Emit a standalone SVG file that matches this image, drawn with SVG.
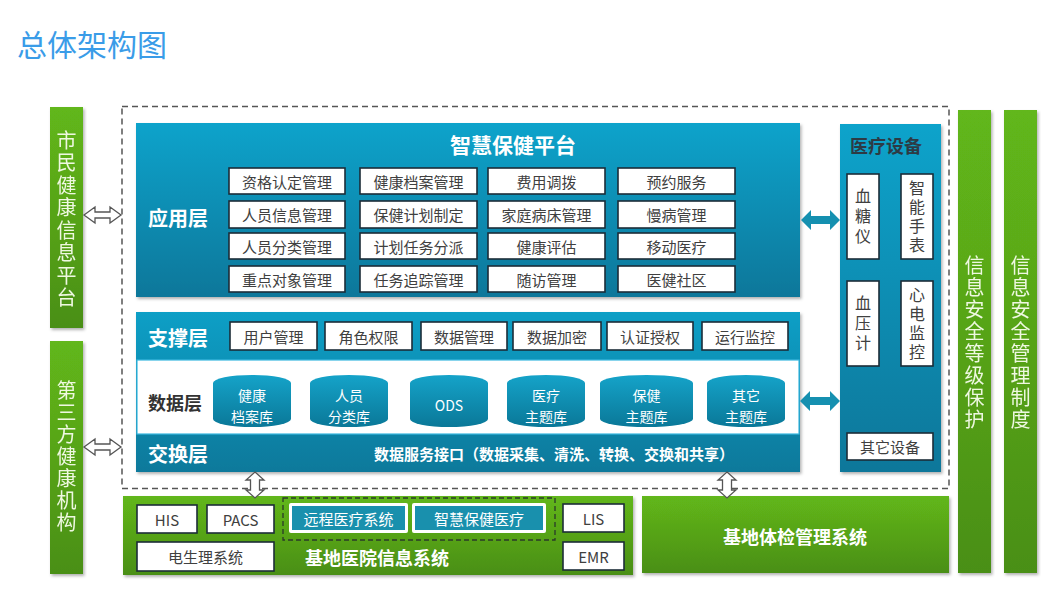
<svg xmlns="http://www.w3.org/2000/svg" width="1061" height="592" viewBox="0 0 1061 592">
<defs>
<linearGradient id="gTeal" x1="0" y1="0" x2="0" y2="1">
<stop offset="0" stop-color="#0aa3cb"/><stop offset="1" stop-color="#08779a"/>
</linearGradient>
<linearGradient id="gBand" x1="0" y1="0" x2="0" y2="1">
<stop offset="0" stop-color="#0b9fc6"/><stop offset="1" stop-color="#08799b"/>
</linearGradient>
<linearGradient id="gCyl" x1="0" y1="0" x2="0" y2="1">
<stop offset="0" stop-color="#15a3c9"/><stop offset="1" stop-color="#0a7898"/>
</linearGradient>
<linearGradient id="gGreen" x1="0" y1="0" x2="0" y2="1">
<stop offset="0" stop-color="#62b71a"/><stop offset="1" stop-color="#4a8f17"/>
</linearGradient>
<filter id="sh" x="-10%" y="-10%" width="120%" height="120%">
<feDropShadow dx="1.5" dy="2" stdDeviation="1.5" flood-color="#000" flood-opacity="0.3"/>
</filter>
<style>
text{font-family:"Noto Sans CJK SC","Liberation Sans",sans-serif;}
.box{fill:#fff;stroke:#1c2c38;stroke-width:1.6;}
.bt{font-size:15px;fill:#404040;text-anchor:middle;dominant-baseline:central;}
.lay{font-size:20px;font-weight:bold;fill:#fff;dominant-baseline:central;}
.vt{font-size:16px;fill:#404040;text-anchor:middle;writing-mode:vertical-rl;}
.gv{font-size:20px;fill:#eef8e0;text-anchor:middle;writing-mode:vertical-rl;}
.cy{font-size:14px;fill:#fff;text-anchor:middle;dominant-baseline:central;}
.hol{fill:#fff;stroke:#555;stroke-width:1.3;}
.tar{fill:#1590b0;}
</style>
</defs>
<rect width="1061" height="592" fill="#fff"/>
<text x="17" y="56" font-size="30" fill="#3a9ce8">总体架构图</text>

<rect x="122" y="106.5" width="827" height="382" fill="none" stroke="#555" stroke-width="1.5" stroke-dasharray="6 4"/>

<g id="left-bar-1" filter="url(#sh)">
<rect x="50" y="107" width="33" height="221" fill="url(#gGreen)"/>
<text class="gv" x="66.5" y="220" letter-spacing="2.5">市民健康信息平台</text>
</g>
<g id="left-bar-2" filter="url(#sh)">
<rect x="50" y="341" width="33" height="233" fill="url(#gGreen)"/>
<text class="gv" x="66.5" y="457" letter-spacing="2">第三方健康机构</text>
</g>
<g id="right-bar-1" filter="url(#sh)">
<rect x="958" y="110" width="33" height="463" fill="url(#gGreen)"/>
<text class="gv" x="974.5" y="343" letter-spacing="2">信息安全等级保护</text>
</g>
<g id="right-bar-2" filter="url(#sh)">
<rect x="1004" y="110" width="33" height="463" fill="url(#gGreen)"/>
<text class="gv" x="1020.5" y="343" letter-spacing="2">信息安全管理制度</text>
</g>

<g id="app-layer">
<rect x="136" y="123" width="664" height="174" fill="url(#gTeal)" filter="url(#sh)"/>
<text x="513" y="144" font-size="21" font-weight="bold" fill="#fff" text-anchor="middle" dominant-baseline="central">智慧保健平台</text>
<text class="lay" x="148" y="217">应用层</text>
<rect class="box" x="229" y="168" width="116" height="26"/><text class="bt" x="287" y="181">资格认定管理</text>
<rect class="box" x="229" y="201" width="116" height="27"/><text class="bt" x="287" y="214.5">人员信息管理</text>
<rect class="box" x="229" y="233" width="116" height="26"/><text class="bt" x="287" y="246">人员分类管理</text>
<rect class="box" x="229" y="266" width="116" height="26"/><text class="bt" x="287" y="279">重点对象管理</text>
<rect class="box" x="360" y="168" width="117" height="26"/><text class="bt" x="418.5" y="181">健康档案管理</text>
<rect class="box" x="360" y="201" width="117" height="27"/><text class="bt" x="418.5" y="214.5">保健计划制定</text>
<rect class="box" x="360" y="233" width="117" height="26"/><text class="bt" x="418.5" y="246">计划任务分派</text>
<rect class="box" x="360" y="266" width="117" height="26"/><text class="bt" x="418.5" y="279">任务追踪管理</text>
<rect class="box" x="488" y="168" width="117" height="26"/><text class="bt" x="546.5" y="181">费用调拨</text>
<rect class="box" x="488" y="201" width="117" height="27"/><text class="bt" x="546.5" y="214.5">家庭病床管理</text>
<rect class="box" x="488" y="233" width="117" height="26"/><text class="bt" x="546.5" y="246">健康评估</text>
<rect class="box" x="488" y="266" width="117" height="26"/><text class="bt" x="546.5" y="279">随访管理</text>
<rect class="box" x="618" y="168" width="117" height="26"/><text class="bt" x="676.5" y="181">预约服务</text>
<rect class="box" x="618" y="201" width="117" height="27"/><text class="bt" x="676.5" y="214.5">慢病管理</text>
<rect class="box" x="618" y="233" width="117" height="26"/><text class="bt" x="676.5" y="246">移动医疗</text>
<rect class="box" x="618" y="266" width="117" height="26"/><text class="bt" x="676.5" y="279">医健社区</text>
</g>

<g id="platform-layers">
<rect x="136" y="312" width="664" height="160" fill="url(#gBand)" filter="url(#sh)"/>
<rect x="137" y="360" width="662" height="74" fill="#fff" stroke="#3ab8e0" stroke-width="1.2"/>
</g>

<g id="support-layer">
<text class="lay" x="148" y="337">支撑层</text>
<rect class="box" x="230" y="322" width="87" height="28"/><text class="bt" x="273.5" y="336">用户管理</text>
<rect class="box" x="325" y="322" width="87" height="28"/><text class="bt" x="368.5" y="336">角色权限</text>
<rect class="box" x="421" y="322" width="86" height="28"/><text class="bt" x="464" y="336">数据管理</text>
<rect class="box" x="513" y="322" width="88" height="28"/><text class="bt" x="557" y="336">数据加密</text>
<rect class="box" x="607" y="322" width="86" height="28"/><text class="bt" x="650" y="336">认证授权</text>
<rect class="box" x="702" y="322" width="86" height="28"/><text class="bt" x="745" y="336">运行监控</text>
</g>

<g id="data-layer">
<text x="148" y="402" font-size="18" font-weight="bold" fill="#333" dominant-baseline="central">数据层</text>
<path d="M213,383 A39,8 0 0 1 291,383 V419 A39,8 0 0 1 213,419 Z" fill="url(#gCyl)"/>
<text class="cy"><tspan x="252" y="394.5">健康</tspan><tspan x="252" y="415.5">档案库</tspan></text>
<path d="M310,383 A39,8 0 0 1 388,383 V419 A39,8 0 0 1 310,419 Z" fill="url(#gCyl)"/>
<text class="cy"><tspan x="349" y="394.5">人员</tspan><tspan x="349" y="415.5">分类库</tspan></text>
<path d="M410,383 A39,8 0 0 1 488,383 V419 A39,8 0 0 1 410,419 Z" fill="url(#gCyl)"/>
<text class="cy" x="449" y="405">ODS</text>
<path d="M507,383 A39,8 0 0 1 585,383 V419 A39,8 0 0 1 507,419 Z" fill="url(#gCyl)"/>
<text class="cy"><tspan x="546" y="394.5">医疗</tspan><tspan x="546" y="415.5">主题库</tspan></text>
<path d="M600,383 A46.5,8 0 0 1 693,383 V419 A46.5,8 0 0 1 600,419 Z" fill="url(#gCyl)"/>
<text class="cy"><tspan x="646.5" y="394.5">保健</tspan><tspan x="646.5" y="415.5">主题库</tspan></text>
<path d="M707,383 A39,8 0 0 1 785,383 V419 A39,8 0 0 1 707,419 Z" fill="url(#gCyl)"/>
<text class="cy"><tspan x="746" y="394.5">其它</tspan><tspan x="746" y="415.5">主题库</tspan></text>
</g>

<g id="exchange-layer">
<text class="lay" x="148" y="453">交换层</text>
<text x="374" y="453" font-size="15" font-weight="bold" fill="#fff" dominant-baseline="central">数据服务接口（数据采集、清洗、转换、交换和共享）</text>
</g>

<g id="medical-devices">
<rect x="840" y="124" width="101" height="348" fill="url(#gTeal)" filter="url(#sh)"/>
<text x="850" y="145" font-size="18" font-weight="bold" fill="#2d3a44" dominant-baseline="central">医疗设备</text>
<rect class="box" x="847" y="174" width="32" height="85"/>
<text class="vt" x="863" y="218" letter-spacing="4">血糖仪</text>
<rect class="box" x="901" y="174" width="32" height="85"/>
<text class="vt" x="917" y="218" letter-spacing="3">智能手表</text>
<rect class="box" x="847" y="281" width="32" height="85"/>
<text class="vt" x="863" y="325" letter-spacing="4">血压计</text>
<rect class="box" x="901" y="281" width="32" height="85"/>
<text class="vt" x="917" y="325" letter-spacing="3">心电监控</text>
<rect class="box" x="847" y="433" width="86" height="27"/><text class="bt" x="890" y="446.5">其它设备</text>
</g>

<g id="hospital-system">
<rect x="123" y="496" width="510" height="79" fill="url(#gGreen)" filter="url(#sh)"/>
<rect class="box" x="137" y="505" width="60" height="28"/><text class="bt" x="167" y="519">HIS</text>
<rect class="box" x="207" y="505" width="67" height="28"/><text class="bt" x="240.5" y="519">PACS</text>
<rect class="box" x="137" y="542" width="137" height="29"/><text class="bt" x="205.5" y="556.5">电生理系统</text>
<rect x="283" y="498" width="272" height="42" fill="none" stroke="#2a3a2a" stroke-width="1.3" stroke-dasharray="5 3"/>
<rect x="289" y="503" width="119" height="30" rx="2" fill="#fff"/>
<rect x="292" y="506" width="113" height="24" fill="#1990ad"/>
<text x="348.5" y="518" font-size="15" fill="#fff" text-anchor="middle" dominant-baseline="central">远程医疗系统</text>
<rect x="412" y="503" width="134" height="30" rx="2" fill="#fff"/>
<rect x="415" y="506" width="128" height="24" fill="#1990ad"/>
<text x="479" y="518" font-size="15" fill="#fff" text-anchor="middle" dominant-baseline="central">智慧保健医疗</text>
<rect class="box" x="563" y="504" width="61" height="28"/><text class="bt" x="593.5" y="518">LIS</text>
<rect class="box" x="563" y="542" width="61" height="28"/><text class="bt" x="593.5" y="556">EMR</text>
<text x="305" y="557" font-size="18" font-weight="bold" fill="#fff" dominant-baseline="central">基地医院信息系统</text>
</g>

<g id="exam-system">
<rect x="642" y="496" width="307" height="77" fill="url(#gGreen)" filter="url(#sh)"/>
<text x="795" y="536" font-size="18" font-weight="bold" fill="#fff" text-anchor="middle" dominant-baseline="central">基地体检管理系统</text>
</g>

<g id="connectors">
<path class="hol" d="M84,215 L95,207 V212 H110 V207 L121,215 L110,223 V218 H95 V223 Z"/>
<path class="hol" d="M84,447 L95,439 V444 H110 V439 L121,447 L110,455 V450 H95 V455 Z"/>
<path class="hol" d="M255,472 L264,480 H259.5 V490 H264 L255,498 L246,490 H250.5 V480 H246 Z"/>
<path class="hol" d="M727,472 L736,480 H731.5 V490 H736 L727,498 L718,490 H722.5 V480 H718 Z"/>
<path class="tar" d="M801,220 L811,210 V216 H830 V210 L840,220 L830,230 V224 H811 V230 Z"/>
<path class="tar" d="M800,401 L810,391 V397 H830 V391 L840,401 L830,411 V405 H810 V411 Z"/>
</g>
</svg>
